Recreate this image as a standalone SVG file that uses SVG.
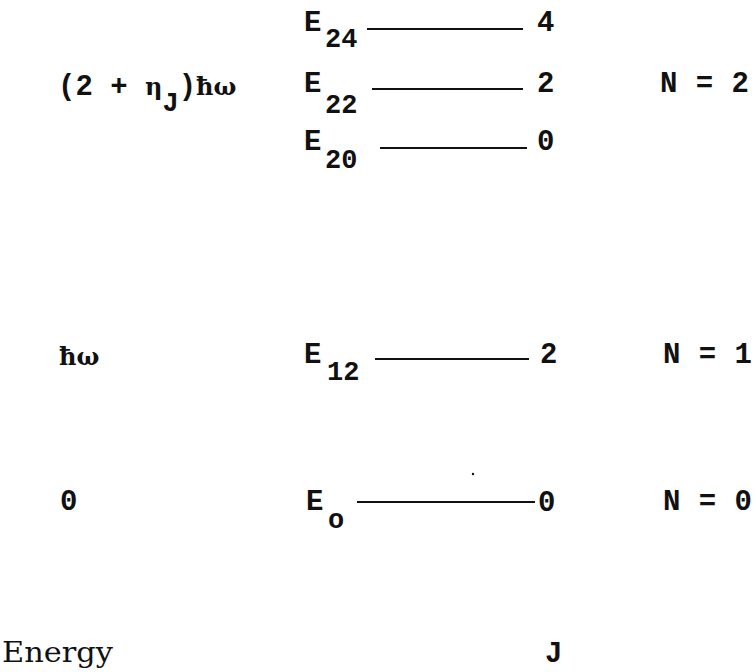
<svg xmlns="http://www.w3.org/2000/svg" width="756" height="672" viewBox="0 0 756 672">
<style>
.t{font-family:"Liberation Mono","Courier New",monospace;font-weight:bold;font-size:29px;fill:#111}
.s{font-family:"Liberation Mono","Courier New",monospace;font-weight:bold;font-size:27px;fill:#111}
.g{font-family:"DejaVu Serif","Liberation Serif",serif;font-weight:bold;font-size:24px;fill:#111}
.en{font-family:"DejaVu Serif","Liberation Serif",serif;font-size:27px;fill:#111}
.lv{stroke:#111;stroke-width:2;fill:none}
</style>
<rect width="756" height="672" fill="#fff"/>
<g id="levels">
<line class="lv" x1="367" y1="29" x2="523" y2="29"/>
<line class="lv" x1="372" y1="89" x2="523" y2="89"/>
<line class="lv" x1="380" y1="148" x2="527" y2="148"/>
<line class="lv" x1="375" y1="359" x2="529" y2="359"/>
<line class="lv" x1="357" y1="502" x2="535" y2="502"/>
</g>
<g id="E24">
<text class="t" x="304" y="31">E</text><text class="s" x="325" y="47">24</text>
<text class="t" x="537" y="31">4</text>
</g>
<g id="E22">
<text class="t" x="304" y="92">E</text><text class="s" x="325" y="113">22</text>
<text class="t" x="537" y="92">2</text>
</g>
<g id="E20">
<text class="t" x="304" y="150">E</text><text class="s" x="325" y="168">20</text>
<text class="t" x="537" y="150">0</text>
</g>
<g id="N2">
<text class="t" x="58" y="95" font-size="28">(2 + <tspan class="g">η</tspan><tspan class="s" font-size="26" dy="16">J</tspan><tspan dy="-16">)</tspan><tspan class="g">ħω</tspan></text>
<text class="t" x="660" y="92" letter-spacing="0.5">N = 2</text>
</g>
<g id="E12">
<text class="g" x="59" y="365">ħω</text>
<text class="t" x="304" y="363">E</text><text class="s" x="327" y="380">12</text>
<text class="t" x="540" y="363">2</text>
<text class="t" x="663" y="363" letter-spacing="0.5">N = 1</text>
</g>
<g id="E0">
<text class="t" x="60" y="510">0</text>
<text class="t" x="306" y="510">E</text><text class="s" x="328" y="528">o</text>
<text class="t" x="538" y="511">0</text>
<text class="t" x="663" y="510" letter-spacing="0.5">N = 0</text>
<circle cx="473" cy="474" r="1.2" fill="#111"/>
</g>
<g id="axes">
<text class="en" x="2" y="662" textLength="111" lengthAdjust="spacingAndGlyphs">Energy</text>
<text class="t" x="545" y="662">J</text>
</g>
</svg>
